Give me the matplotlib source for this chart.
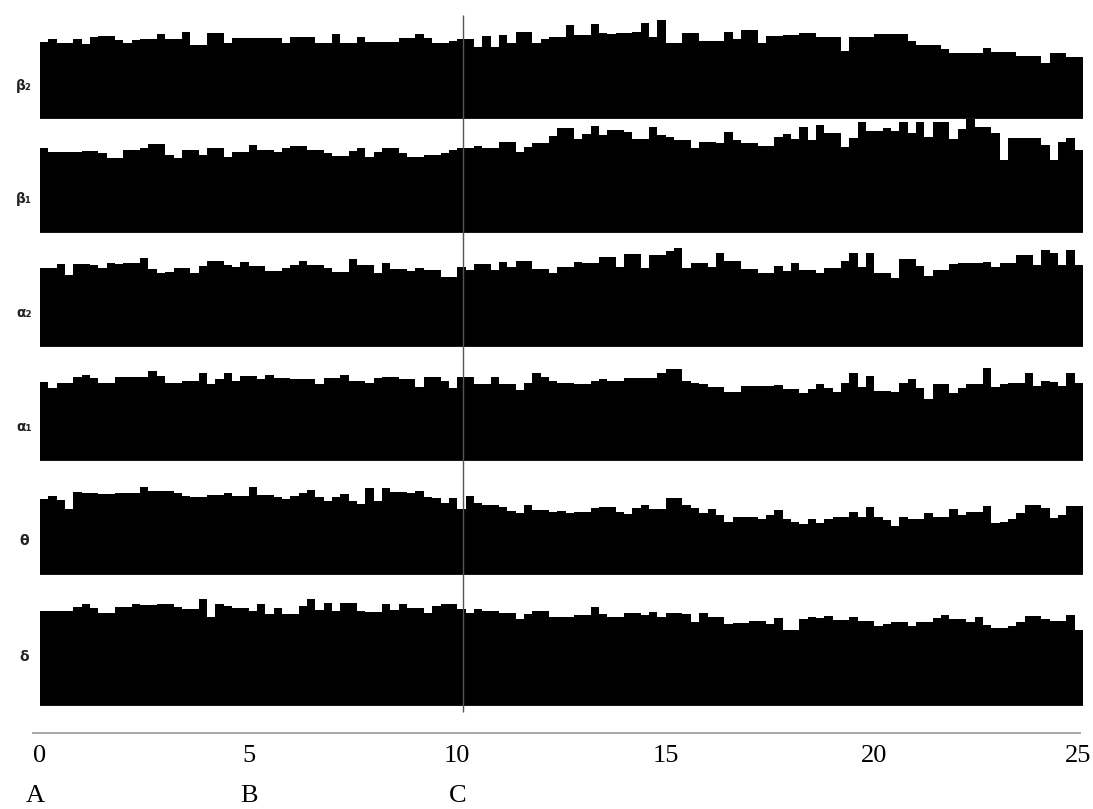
import numpy as np
import matplotlib
matplotlib.use("Agg")
import matplotlib.pyplot as plt

# =========================
# DATA (band power per 0.2 step)
# =========================
bands = ["β₂", "β₁", "α₂", "α₁", "θ", "δ"]

beta2 = [77, 80, 76, 76, 80, 75, 82, 83, 83, 79, 76, 79, 80, 80, 85, 80, 80, 87, 74, 74,
         86, 86, 76, 81, 81, 81, 81, 81, 81, 76, 82, 82, 82, 76, 76, 85, 76, 76, 82, 77,
         77, 77, 77, 81, 81, 85, 81, 76, 76, 78, 80, 80, 72, 83, 72, 84, 76, 87, 87, 76,
         80, 82, 82, 94, 84, 84, 95, 86, 85, 86, 86, 87, 96, 82, 99, 76, 76, 86, 86, 78,
         78, 78, 87, 80, 89, 89, 76, 83, 83, 84, 84, 86, 86, 82, 82, 82, 68, 82, 82, 82,
         85, 85, 85, 85, 78, 74, 74, 74, 70, 66, 66, 66, 66, 71, 67, 67, 67, 63, 63, 63,
         56, 66, 66, 62, 62]

beta1 = [85, 81, 81, 81, 81, 82, 82, 80, 75, 75, 83, 83, 85, 89, 89, 78, 75, 83, 83, 78,
         85, 85, 76, 81, 81, 88, 83, 83, 81, 85, 87, 87, 83, 83, 80, 77, 77, 82, 85, 76,
         81, 85, 85, 80, 76, 76, 78, 78, 80, 83, 85, 85, 87, 85, 85, 91, 91, 81, 86, 90,
         90, 97, 105, 105, 94, 99, 107, 98, 103, 103, 101, 94, 94, 106, 98, 96, 93, 93, 85, 91,
         91, 90, 101, 93, 90, 90, 87, 87, 96, 99, 94, 106, 93, 108, 100, 100, 86, 95, 111, 102,
         102, 105, 102, 111, 100, 111, 96, 111, 111, 94, 104, 115, 106, 106, 100, 73, 95, 95, 95, 95,
         88, 73, 91, 95, 83]

alpha2 = [79, 79, 83, 72, 83, 83, 82, 79, 84, 83, 84, 84, 89, 78, 74, 75, 79, 79, 74, 81,
          86, 86, 82, 80, 85, 81, 81, 76, 76, 79, 82, 86, 82, 82, 79, 75, 75, 88, 82, 82,
          74, 84, 78, 78, 76, 79, 77, 77, 70, 70, 80, 77, 83, 83, 77, 85, 80, 86, 86, 78,
          78, 74, 80, 80, 85, 84, 84, 90, 90, 80, 93, 93, 79, 92, 92, 96, 99, 79, 84, 84,
          80, 94, 86, 86, 78, 78, 74, 74, 81, 76, 84, 77, 77, 74, 79, 79, 86, 94, 80, 94,
          74, 74, 69, 88, 88, 81, 71, 77, 77, 83, 84, 84, 84, 85, 80, 84, 84, 92, 92, 82,
          97, 94, 82, 97, 82]

alpha1 = [79, 73, 78, 78, 84, 86, 83, 78, 78, 84, 84, 84, 84, 90, 85, 78, 78, 80, 80, 88,
          77, 82, 88, 80, 85, 85, 82, 86, 83, 83, 82, 82, 82, 77, 83, 83, 86, 80, 80, 78,
          83, 84, 84, 82, 82, 74, 84, 84, 80, 73, 84, 84, 77, 77, 84, 77, 77, 71, 78, 88,
          84, 80, 78, 78, 77, 77, 80, 82, 80, 80, 83, 83, 83, 83, 88, 92, 92, 80, 78, 77,
          74, 74, 69, 69, 75, 75, 75, 75, 76, 72, 72, 68, 72, 77, 73, 69, 78, 88, 74, 85,
          70, 70, 69, 78, 82, 73, 62, 77, 77, 68, 73, 77, 77, 93, 74, 77, 78, 78, 88, 75,
          80, 79, 75, 88, 78]

theta = [76, 79, 75, 66, 83, 82, 82, 81, 81, 82, 82, 82, 88, 84, 84, 84, 82, 79, 78, 78,
         80, 80, 82, 79, 79, 88, 80, 80, 78, 76, 79, 82, 85, 78, 74, 78, 81, 74, 71, 87,
         74, 87, 83, 83, 82, 84, 78, 77, 72, 77, 66, 79, 72, 70, 70, 68, 64, 62, 70, 65,
         65, 63, 64, 62, 63, 63, 67, 68, 68, 63, 61, 67, 70, 66, 66, 77, 77, 70, 67, 62,
         66, 60, 53, 58, 58, 58, 56, 60, 65, 56, 53, 51, 56, 52, 56, 58, 58, 63, 58, 68,
         58, 55, 49, 58, 56, 56, 62, 58, 58, 66, 60, 63, 63, 69, 52, 53, 56, 62, 70, 70,
         67, 57, 60, 69, 69]

delta = [95, 95, 95, 95, 99, 102, 98, 93, 93, 99, 99, 102, 101, 101, 102, 102, 99, 97, 97, 107,
         89, 102, 100, 98, 98, 95, 102, 92, 98, 92, 92, 100, 107, 96, 103, 95, 103, 103, 95, 94,
         94, 102, 96, 102, 98, 98, 93, 100, 102, 102, 97, 93, 97, 95, 95, 93, 93, 87, 92, 95,
         95, 89, 89, 89, 91, 91, 99, 92, 89, 89, 93, 93, 91, 94, 89, 93, 93, 92, 84, 93,
         89, 89, 82, 83, 83, 85, 85, 82, 88, 76, 76, 87, 89, 88, 90, 86, 86, 89, 85, 85,
         80, 82, 84, 84, 80, 84, 84, 88, 91, 87, 87, 84, 89, 81, 78, 78, 80, 84, 90, 90,
         87, 85, 85, 91, 76]

series = [beta2, beta1, alpha2, alpha1, theta, delta]

tick_values = [0, 5, 10, 15, 20, 25]
tick_labels = ["0", "5", "10", "15", "20", "25"]
event_labels = ["A", "B", "C"]
event_times = [0, 5, 10]
marker_time = 10.15

# =========================
# LAYOUT (pixels)
# =========================
W, H = 1093, 809
left_px, width_px = 40, 1043
baselines = [119, 233, 347, 461, 575, 706]
tops = [0, 119, 233, 347, 461, 575]
label_y = [86, 199, 313, 427, 541, 657]

fig = plt.figure(figsize=(W / 100, H / 100), dpi=100)
fig.patch.set_facecolor("white")

for name, vals, b, t, ly in zip(bands, series, baselines, tops, label_y):
    ax = fig.add_axes([left_px / W, 1 - b / H, width_px / W, (b - t) / H])
    edges = np.linspace(0, 25, len(vals) + 1)
    ax.stairs(vals, edges, fill=True, color="black", linewidth=0)
    ax.axhline(0.5, color="#777777", lw=1)
    ax.set_xlim(0, 25)
    ax.set_ylim(0, b - t)
    ax.axis("off")
    fig.text(24 / W, 1 - ly / H, name, ha="center", va="center",
             fontsize=10, fontweight="bold", color="#222222")

# overlay for the marker line, bottom rule and labels
ax0 = fig.add_axes([left_px / W, 0, width_px / W, 1])
ax0.set_xlim(0, 25)
ax0.set_ylim(H, 0)
ax0.patch.set_alpha(0)
ax0.axis("off")
ax0.vlines(marker_time, 15, 712, color="#555555", lw=1)
ax0.hlines(733, -0.2, 24.95, color="#999999", lw=1.2, clip_on=False)

serif = ["Liberation Serif", "DejaVu Serif"]
for v, lab in zip(tick_values, tick_labels):
    ax0.text(v - (0.12 if v == 25 else 0), 756, lab, ha="center", va="center",
             fontsize=19, family=serif, clip_on=False)
for v, lab in zip(event_times, event_labels):
    ax0.text(v - (0.12 if v == 0 else 0), 796, lab, ha="center", va="center",
             fontsize=19, family=serif, clip_on=False)

plt.savefig("out.png", dpi=100)
